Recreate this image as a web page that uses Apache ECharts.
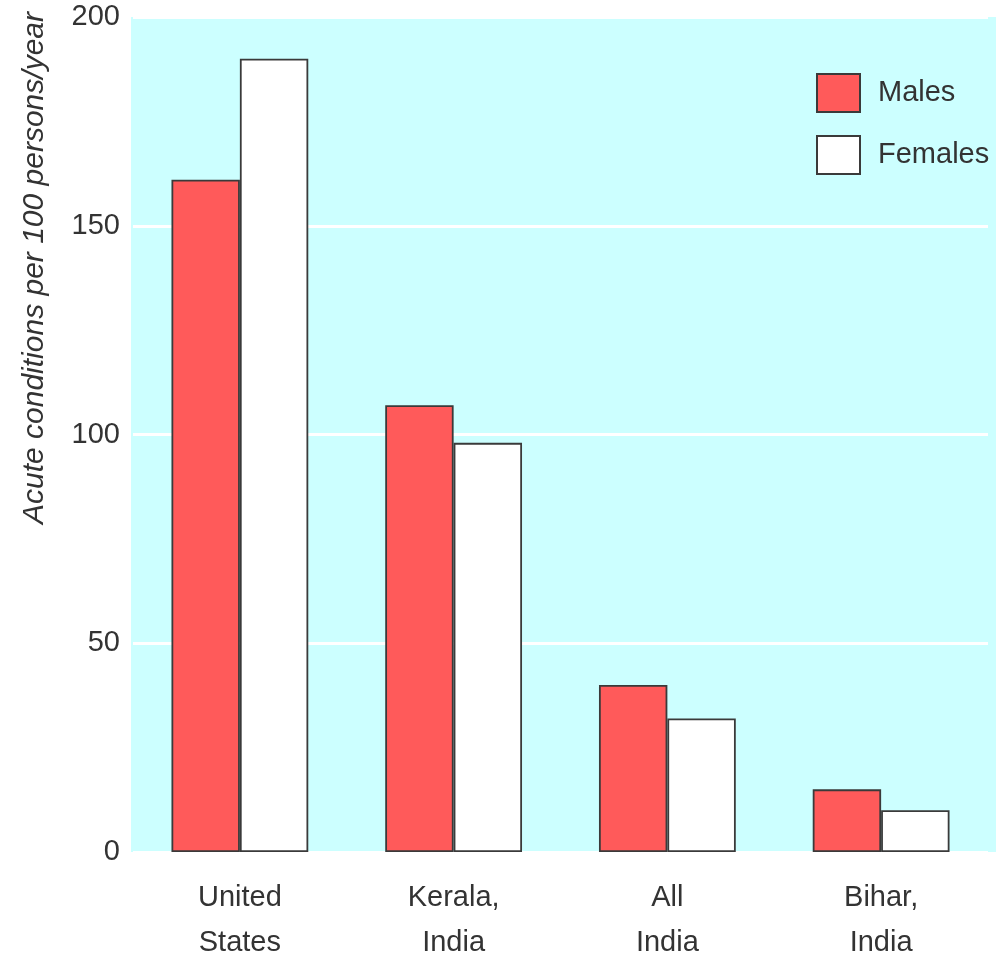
<!DOCTYPE html>
<html>
<head>
<meta charset="utf-8">
<script src="https://cdn.jsdelivr.net/npm/echarts@6/dist/echarts.min.js"></script>
<style>
html,body{margin:0;padding:0;background:#fff;}
#chart{width:996px;height:956px;}
</style>
</head>
<body>
<div id="chart"></div>
<script>
var categories = ['United\nStates', 'Kerala,\nIndia', 'All\nIndia', 'Bihar,\nIndia'];
var males = [161, 107, 40, 15];
var females = [190, 98, 32, 10];
var yTicks = [0, 50, 100, 150, 200];
var yTitle = 'Acute conditions per 100 persons/year';

var labelFont = '"Liberation Sans Narrow", "Liberation Sans", Arial, sans-serif';
var chart = echarts.init(document.getElementById('chart'));
chart.setOption({
  animation: false,
  backgroundColor: '#ffffff',
  graphic: {
    elements: [
      {
        type: 'rect', z: -100, silent: true,
        shape: { x: 131, y: 17, width: 865, height: 835 },
        style: { fill: '#CCFFFF' }
      },
      {
        type: 'text', z: 10, silent: true,
        x: 35, y: 268, rotation: Math.PI / 2,
        style: {
          text: yTitle,
          fill: '#333333',
          font: 'italic 30px "Liberation Sans", Arial, sans-serif',
          align: 'center',
          verticalAlign: 'middle'
        }
      }
    ]
  },
  grid: { left: 133, right: 8, top: 17, bottom: 104, containLabel: false, outerBoundsMode: 'none' },
  legend: {
    orient: 'vertical',
    left: 816, top: 73, padding: 0,
    itemWidth: 43, itemHeight: 38, itemGap: 22,
    icon: 'rect',
    textStyle: { fontFamily: labelFont, fontSize: 29, color: '#333333', padding: [0, 0, 0, 13] },
    data: ['Males', 'Females']
  },
  xAxis: {
    type: 'category',
    data: categories,
    axisLine: { show: false },
    axisTick: { show: false },
    axisLabel: { fontFamily: labelFont, fontSize: 29, color: '#333333', lineHeight: 45, margin: 23, interval: 0 }
  },
  yAxis: {
    type: 'value',
    min: yTicks[0], max: yTicks[yTicks.length - 1], interval: 50,
    axisLine: { show: false },
    axisTick: { show: false },
    axisLabel: { fontFamily: labelFont, fontSize: 29, color: '#333333', margin: 13 },
    splitLine: { show: true, lineStyle: { color: '#ffffff', width: 3 } }
  },
  series: [
    {
      name: 'Males', type: 'bar', data: males,
      barGap: '0%', barCategoryGap: '36%',
      itemStyle: { color: '#FF5A5A', borderColor: '#3a3a3a', borderWidth: 1.8 }
    },
    {
      name: 'Females', type: 'bar', data: females,
      barGap: '0%', barCategoryGap: '36%',
      itemStyle: { color: '#ffffff', borderColor: '#3a3a3a', borderWidth: 1.8 }
    }
  ]
});
</script>
</body>
</html>
